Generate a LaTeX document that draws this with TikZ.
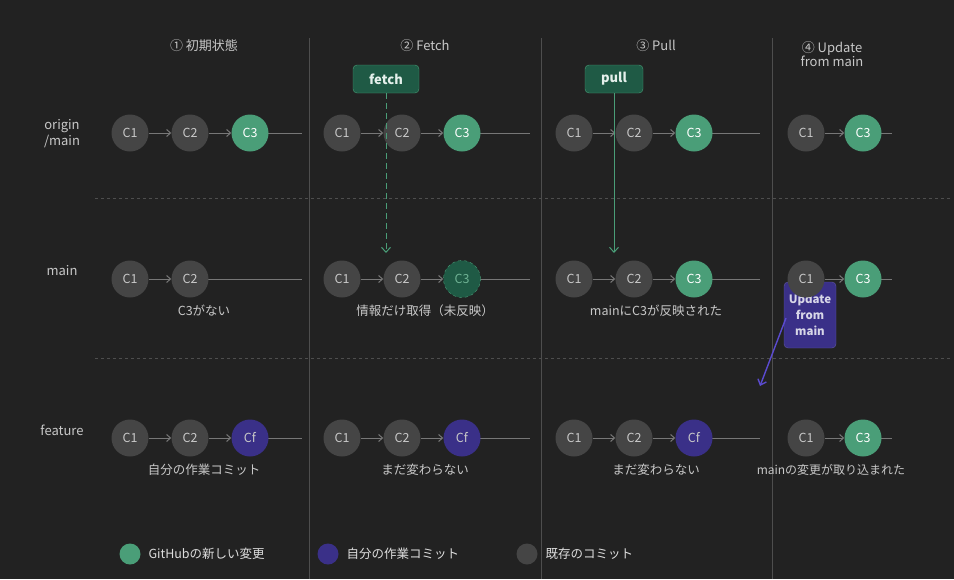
\documentclass[tikz,border=0pt]{standalone}
\usepackage{fontspec}
\setmainfont{Noto Sans CJK JP}
\usetikzlibrary{arrows.meta}
\definecolor{bg}{HTML}{222222}
\definecolor{cgrey}{HTML}{454545}
\definecolor{cgreen}{HTML}{4A9E78}
\definecolor{cpurp}{HTML}{3A3088}
\definecolor{parrow}{HTML}{5B4BD0}
\definecolor{txt}{HTML}{C8C8C8}
\definecolor{lgrey}{HTML}{777777}
\definecolor{dgreen}{HTML}{1F5A45}
\tikzset{
 cmt/.style={circle,minimum size=37pt,inner sep=0pt,text=txt,font=\fontsize{12.5}{13}\selectfont},
 cg/.style={cmt,fill=cgrey},
 cgr/.style={cmt,fill=cgreen,text=white},
 cp/.style={cmt,fill=cpurp},
 cpend/.style={cmt,fill=dgreen,draw=cgreen,dashed,text=cgreen!80!white},
 lk/.style={draw=lgrey,line width=1pt,-{Straight Barb[length=4pt,width=7pt]}},
 tl/.style={draw=lgrey,line width=1pt},
 lab/.style={text=txt,font=\fontsize{13}{15}\selectfont,align=center},
 captxt/.style={text=txt,font=\fontsize{12.5}{14}\selectfont},
 sep/.style={draw=white!20!bg,line width=0.8pt},
 hsep/.style={draw=white!20!bg,dashed,line width=0.8pt}
}
\begin{document}
\begin{tikzpicture}[x=1pt,y=-1pt]
\fill[bg] (0,0) rectangle (954,579);
\useasboundingbox (0,0) rectangle (954,579);
\draw[sep] (309,38) -- (309,579);
\draw[sep] (541,38) -- (541,579);
\draw[sep] (772,38) -- (772,579);
\draw[hsep] (95,198) -- (950,198);
\draw[hsep] (95,358) -- (950,358);
% headers
\node[lab] (h1) at (204,46) {① 初期状態};
\node[lab] (h2) at (425,46) {② Fetch};
\node[lab] (h3) at (656,46) {③ Pull};
\node[lab,font=\fontsize{13}{14}\selectfont] (h4) at (832,54) {④ Update\\from main};
\node[lab,font=\fontsize{13}{16}\selectfont] (r1) at (62,134) {origin\\/main};
\node[lab] (r2) at (62,271) {main};
\node[lab] (r3) at (62,430) {feature};
% update box (behind circles)
\node[fill=cpurp,draw=cpurp!80!white,rounded corners=4pt,minimum width=52pt,minimum height=66pt,text=white!80!cpurp,align=center,font=\bfseries\fontsize{11.5}{16}\selectfont,inner sep=1pt] (upd) at (810,315) {Update\\from\\main};
\coordinate (ue) at (760,386);
\draw[parrow,line width=1.4pt,-{Straight Barb[length=5pt,width=9pt]}] (786,318) -- (ue);
% tails
\coordinate (t1a) at (302,133); \coordinate (t1b) at (302,279); \coordinate (t1c) at (302,438);
\coordinate (t2a) at (530,133); \coordinate (t2b) at (530,279); \coordinate (t2c) at (530,438);
\coordinate (t3a) at (760,133); \coordinate (t3b) at (760,279); \coordinate (t3c) at (760,438);
\coordinate (t4a) at (892,133); \coordinate (t4b) at (892,279); \coordinate (t4c) at (892,438);
% column 1
\draw[tl] (250,133) -- (t1a); \draw[tl] (190,279) -- (t1b); \draw[tl] (250,438) -- (t1c);
\node[cg] (a11) at (130,133) {C1}; \node[cg] (a12) at (190,133) {C2}; \node[cgr] (a13) at (250,133) {C3};
\node[cg] (a21) at (130,279) {C1}; \node[cg] (a22) at (190,279) {C2};
\node[cg] (a31) at (130,438) {C1}; \node[cg] (a32) at (190,438) {C2}; \node[cp] (a33) at (250,438) {Cf};
\draw[lk] (a11)--(a12); \draw[lk] (a12)--(a13); \draw[lk] (a21)--(a22);
\draw[lk] (a31)--(a32); \draw[lk] (a32)--(a33);
% column 2
\draw[tl] (462,133) -- (t2a); \draw[tl] (462,279) -- (t2b); \draw[tl] (462,438) -- (t2c);
\node[cg] (b11) at (342,133) {C1}; \node[cg] (b12) at (402,133) {C2}; \node[cgr] (b13) at (462,133) {C3};
\node[cg] (b21) at (342,279) {C1}; \node[cg] (b22) at (402,279) {C2}; \node[cpend] (b23) at (462,279) {C3};
\node[cg] (b31) at (342,438) {C1}; \node[cg] (b32) at (402,438) {C2}; \node[cp] (b33) at (462,438) {Cf};
\draw[lk] (b11)--(b12); \draw[lk] (b12)--(b13); \draw[lk] (b21)--(b22); \draw[lk] (b22)--(b23);
\draw[lk] (b31)--(b32); \draw[lk] (b32)--(b33);
% column 3
\draw[tl] (694,133) -- (t3a); \draw[tl] (694,279) -- (t3b); \draw[tl] (694,438) -- (t3c);
\node[cg] (c11) at (574,133) {C1}; \node[cg] (c12) at (634,133) {C2}; \node[cgr] (c13) at (694,133) {C3};
\node[cg] (c21) at (574,279) {C1}; \node[cg] (c22) at (634,279) {C2}; \node[cgr] (c23) at (694,279) {C3};
\node[cg] (c31) at (574,438) {C1}; \node[cg] (c32) at (634,438) {C2}; \node[cp] (c33) at (694,438) {Cf};
\draw[lk] (c11)--(c12); \draw[lk] (c12)--(c13); \draw[lk] (c21)--(c22); \draw[lk] (c22)--(c23);
\draw[lk] (c31)--(c32); \draw[lk] (c32)--(c33);
% column 4
\draw[tl] (863,133) -- (t4a); \draw[tl] (863,279) -- (t4b); \draw[tl] (863,438) -- (t4c);
\node[cg] (d11) at (806,133) {C1}; \node[cgr] (d12) at (863,133) {C3};
\node[cg] (d21) at (806,279) {C1}; \node[cgr] (d22) at (863,279) {C3};
\node[cg] (d31) at (806,438) {C1}; \node[cgr] (d32) at (863,438) {C3};
\draw[lk] (d11)--(d12); \draw[lk] (d21)--(d22); \draw[lk] (d31)--(d32);
% fetch / pull
\node[draw=cgreen,fill=dgreen,rounded corners=4pt,minimum width=66pt,minimum height=28pt,text=white!85!cgreen,font=\bfseries\fontsize{13}{15}\selectfont] (fetch) at (386,79) {fetch};
\coordinate (fe) at (386,253);
\draw[cgreen,dash pattern=on 6pt off 4pt,line width=1pt,-{Straight Barb[length=5pt,width=9pt]}] (fetch.south) -- (fe);
\node[draw=cgreen,fill=dgreen,rounded corners=4pt,minimum width=58pt,minimum height=28pt,text=white!85!cgreen,font=\bfseries\fontsize{13}{15}\selectfont] (pull) at (614,79) {pull};
\coordinate (pe) at (614,253);
\draw[cgreen,line width=1pt,-{Straight Barb[length=5pt,width=9pt]}] (pull.south) -- (pe);
% captions
\node[captxt] (k1) at (204,311) {C3がない};
\node[captxt] (k2) at (425,311) {情報だけ取得（未反映）};
\node[captxt] (k3) at (656,311) {mainにC3が反映された};
\node[captxt] (k4) at (204,470) {自分の作業コミット};
\node[captxt] (k5) at (425,470) {まだ変わらない};
\node[captxt] (k6) at (656,470) {まだ変わらない};
\node[captxt,font=\fontsize{12}{14}\selectfont] (k7) at (831,470) {mainの変更が取り込まれた};
% legend
\node[circle,fill=cgreen,minimum size=21pt,inner sep=0pt] (l1) at (130,554) {};
\node[captxt,anchor=west,text=white!85!bg] (lt1) at (145,554) {GitHubの新しい変更};
\node[circle,fill=cpurp,minimum size=21pt,inner sep=0pt] (l2) at (328,554) {};
\node[captxt,anchor=west,text=white!85!bg] (lt2) at (343,554) {自分の作業コミット};
\node[circle,fill=cgrey,minimum size=21pt,inner sep=0pt] (l3) at (527,554) {};
\node[captxt,anchor=west,text=white!85!bg] (lt3) at (542,554) {既存のコミット};
\end{tikzpicture}
\end{document}
